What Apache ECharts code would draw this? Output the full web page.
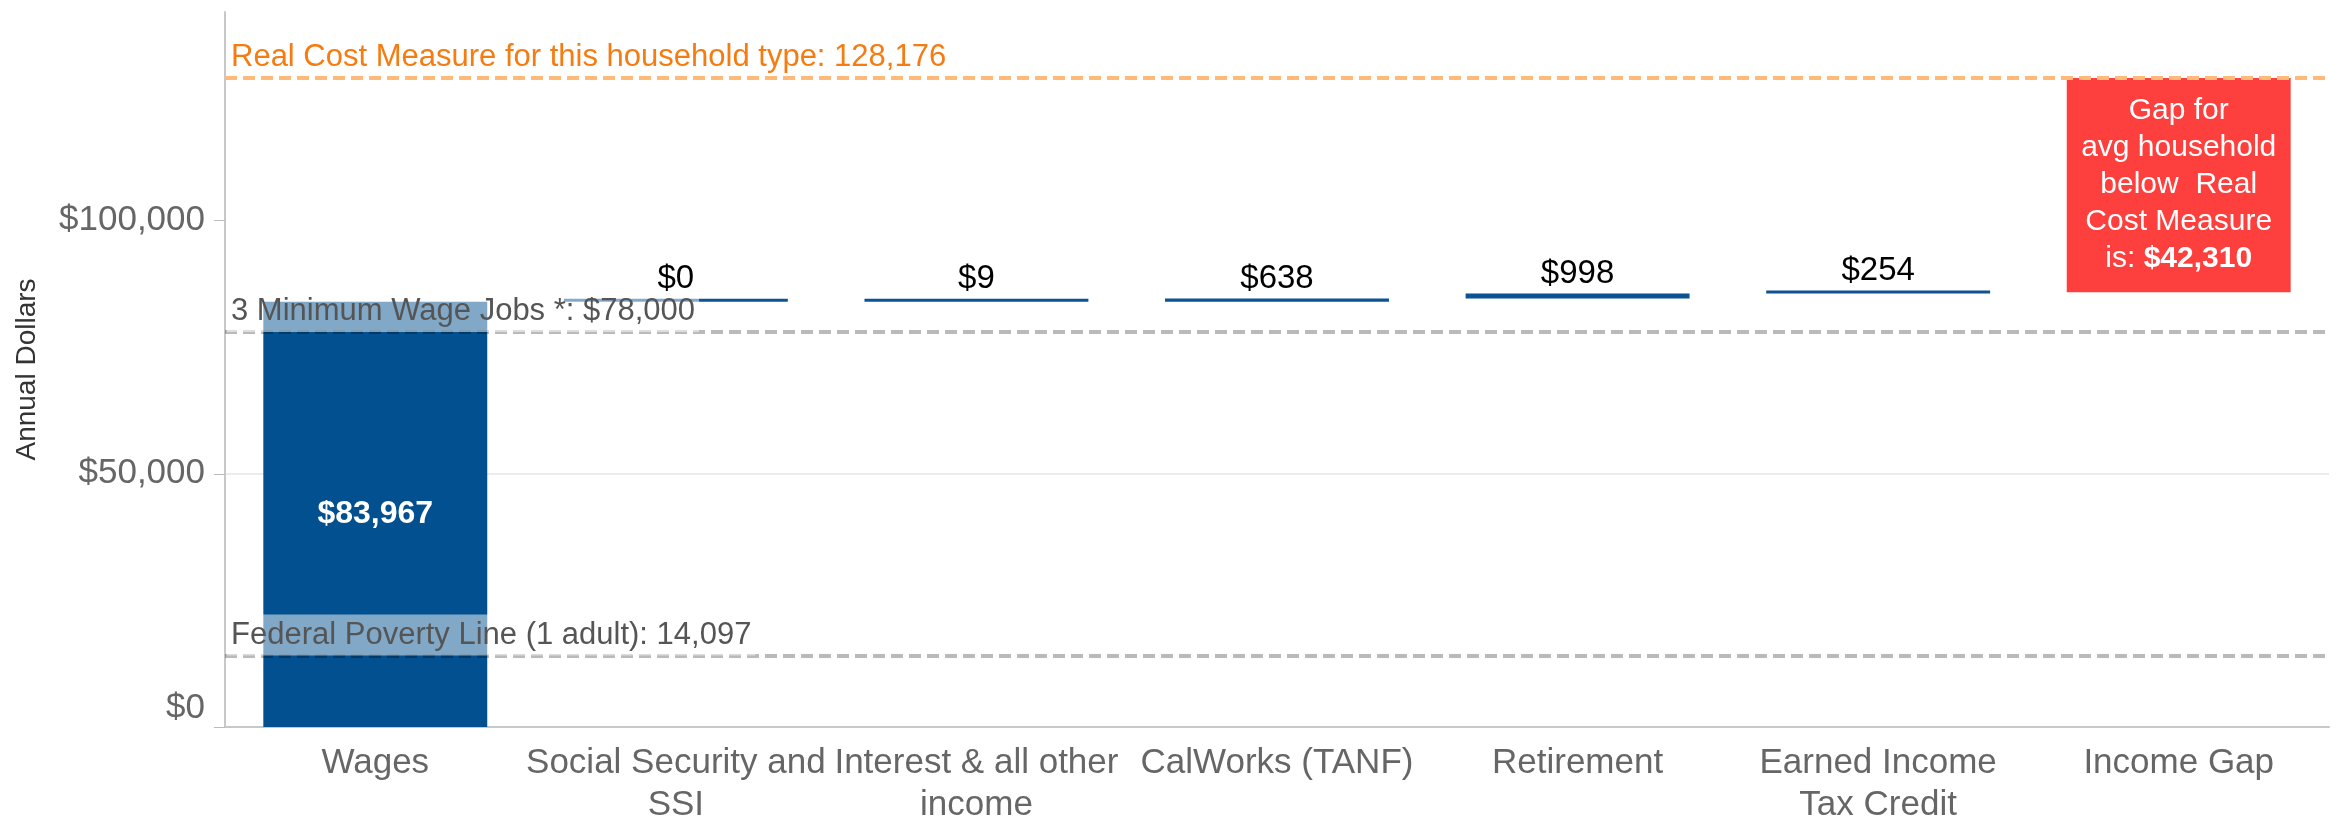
<!DOCTYPE html>
<html>
<head>
<meta charset="utf-8">
<script src="https://cdn.jsdelivr.net/npm/echarts@6/dist/echarts.min.js"></script>
<style>
  html, body { margin: 0; padding: 0; background: #fff; }
  #incomeChart { width: 2341px; height: 821px; }
</style>
</head>
<body>
<div id="incomeChart"></div>
<script>
// income sources (waterfall), values in annual dollars
const categories = [
  'Wages',
  'Social Security and\nSSI',
  'Interest & all other\nincome',
  'CalWorks (TANF)',
  'Retirement',
  'Earned Income\nTax Credit',
  'Income Gap'
];
const amounts = [83967, 0, 9, 638, 998, 254, 42310];
const yTicks = [0, 50000, 100000];

// reference lines
const realCost = 128176;
const minWageJobs = 78000;
const povertyLine = 14097;

const FONT = '"Liberation Sans", Arial, sans-serif';
const fmt = v => '$' + v.toLocaleString('en-US');

// invisible base of each floating bar = running total of the earlier ones
const baseData = [];
let running = 0;
for (let i = 0; i < amounts.length; i++) {
  baseData.push(i === 0 ? 0 : running);
  running += amounts[i];
}

const barData = amounts.map((v, i) => {
  if (i === 0) {
    return {
      value: v,
      itemStyle: { color: '#02508f' },
      label: { show: true, position: 'inside', color: '#fff', fontWeight: 'bold', fontSize: 32, formatter: fmt(v) }
    };
  }
  if (i === amounts.length - 1) {
    return {
      value: v,
      itemStyle: { color: '#fd403d' },
      label: {
        show: true,
        position: 'inside',
        color: '#fff',
        fontSize: 30,
        lineHeight: 37,
        formatter: 'Gap for\navg household\nbelow  Real\nCost Measure\nis: {b|' + fmt(v) + '}',
        rich: { b: { color: '#fff', fontSize: 30, lineHeight: 37, fontWeight: 'bold', fontFamily: FONT } }
      }
    };
  }
  return {
    value: v,
    itemStyle: { color: '#0b5394' },
    label: { show: true, position: 'top', distance: 3, color: '#000', fontSize: 33, formatter: fmt(v) }
  };
});

const myChart = echarts.init(document.getElementById('incomeChart'));

const option = {
  backgroundColor: '#fff',
  textStyle: { fontFamily: FONT },
  animation: false,
  grid: { left: 225, right: 12, top: 12, bottom: 94, outerBoundsMode: 'none' },
  xAxis: {
    type: 'category',
    data: categories,
    axisLine: { lineStyle: { color: '#c8c8c8', width: 2 } },
    axisTick: { length: 12, lineStyle: { color: '#c8c8c8', width: 1 } },
    axisLabel: { interval: 0, color: '#666', fontSize: 35, lineHeight: 42, margin: 15 }
  },
  yAxis: {
    type: 'value',
    min: 0,
    max: 141200,
    interval: 50000,
    name: 'Annual Dollars',
    nameLocation: 'middle',
    nameGap: 184,
    nameRotate: 90,
    nameTextStyle: { color: '#333', fontSize: 28 },
    axisLine: { show: true, lineStyle: { color: '#c8c8c8', width: 2 } },
    axisTick: { show: true, length: 11, customValues: yTicks, lineStyle: { color: '#bbb' } },
    axisLabel: {
      customValues: yTicks,
      color: '#666',
      fontSize: 35,
      margin: 20,
      formatter: v => (v === 0 ? '{z|$0}' : fmt(v)),
      rich: { z: { color: '#666', fontSize: 35, fontFamily: FONT, padding: [0, 0, 38, 0] } }
    },
    splitLine: { show: true, showMinLine: false, showMaxLine: false, lineStyle: { color: '#ececec', width: 2 } }
  },
  series: [
    {
      type: 'bar',
      stack: 'waterfall',
      silent: true,
      itemStyle: { color: 'transparent' },
      data: baseData
    },
    {
      type: 'bar',
      stack: 'waterfall',
      barWidth: '74.5%',
      barMinHeight: 3,
      data: barData,
      markLine: {
        silent: true,
        symbol: ['none', 'none'],
        lineStyle: { type: [12, 6], width: 4, color: 'rgba(0,0,0,0.27)' },
        label: {
          position: 'insideStartTop',
          distance: [2, 0],
          fontSize: 31,
          color: '#555',
          backgroundColor: 'rgba(255,255,255,0.5)',
          padding: [5, 4, 5, 4]
        },
        data: [
          {
            yAxis: realCost,
            lineStyle: { color: '#ffb978', type: [12, 6], width: 4 },
            label: {
              formatter: 'Real Cost Measure for this household type: ' + realCost.toLocaleString('en-US'),
              color: '#f57c11',
              backgroundColor: 'transparent'
            }
          },
          { yAxis: minWageJobs, label: { formatter: '3 Minimum Wage Jobs *: ' + fmt(minWageJobs) } },
          { yAxis: povertyLine, label: { formatter: 'Federal Poverty Line (1 adult): ' + povertyLine.toLocaleString('en-US') } }
        ]
      }
    }
  ]
};
myChart.setOption(option);
window.addEventListener('resize', myChart.resize);
</script>
</body>
</html>
